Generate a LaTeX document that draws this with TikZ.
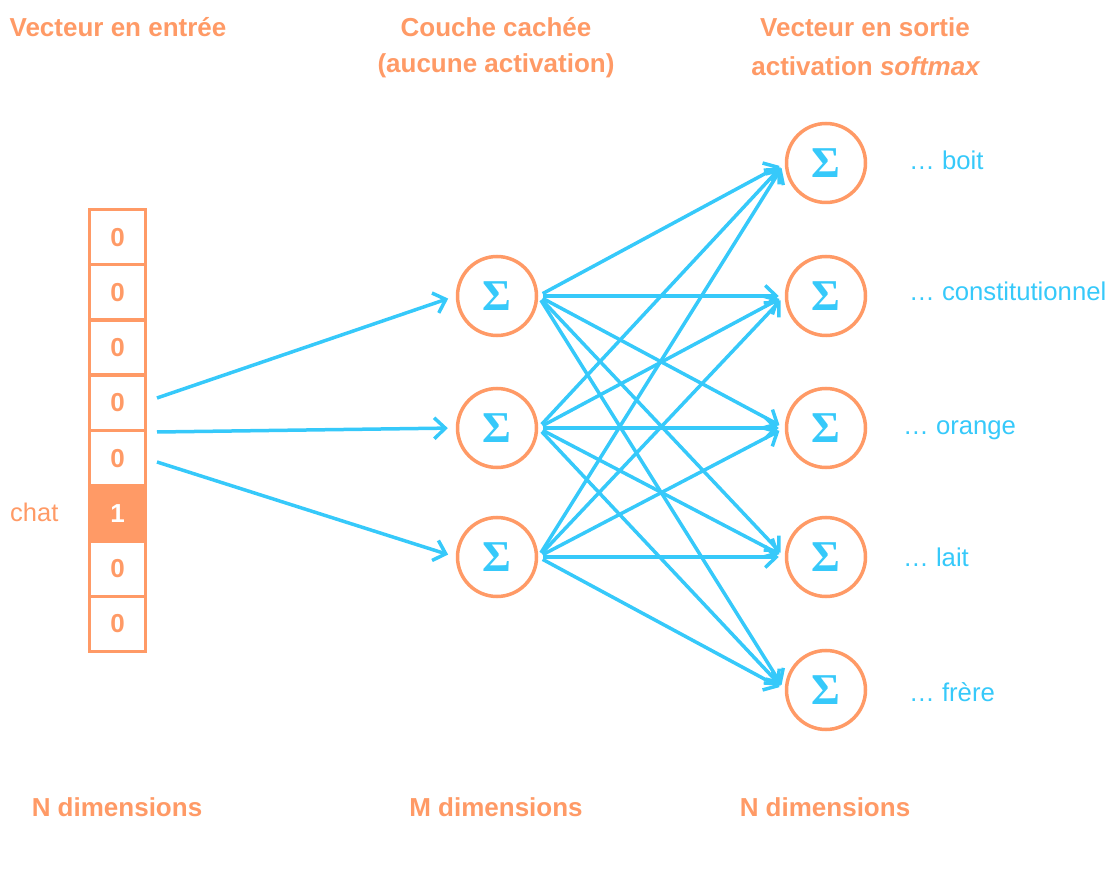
\documentclass[tikz,border=0pt]{standalone}
\usepackage{fontspec}
\setmainfont{Liberation Sans}
\newfontfamily\sigfont{Liberation Serif}
\usetikzlibrary{arrows.meta}
\definecolor{org}{RGB}{255,154,102}
\definecolor{blu}{RGB}{54,201,250}
\begin{document}
\begin{tikzpicture}[x=1pt,y=-1pt,
  title/.style={text=org,font=\fontsize{26}{30}\selectfont\bfseries,inner sep=0pt},
  word/.style={text=blu,font=\fontsize{25.7}{30}\selectfont,inner sep=0pt,anchor=west},
  cell/.style={draw=org,line width=3.5pt,minimum width=56pt,minimum height=55.25pt,inner sep=0pt,
    text=org,font=\fontsize{26}{30}\selectfont\bfseries},
  hot/.style={cell,fill=org,text=white},
  neuron/.style={circle,draw=org,line width=3.5pt,minimum size=79pt,inner sep=0pt,
    text=blu,font=\sigfont\fontsize{44}{44}\selectfont\bfseries},
  conn/.style={draw=blu,line width=3.5pt,-{Straight Barb[length=11pt,width=21pt,line width=3.5pt]}}
]
\useasboundingbox (0,0) rectangle (1120,890);
% titles
\node[title] (t1) at (118,27) {Vecteur en entrée};
\node[title] (t2) at (496,27) {Couche cachée};
\node[title] (t2b) at (496,66) {(aucune activation)};
\node[title] (t3) at (865,27) {Vecteur en sortie};
\node[title] (t3b) at (866,66) {activation \textit{softmax}};
\node[title] (d1) at (117,807) {N dimensions};
\node[title] (d2) at (496,807) {M dimensions};
\node[title] (d3) at (825,807) {N dimensions};
% input vector
\foreach \k/\v in {1/0,2/0,3/0,4/0,5/0,7/0,8/0}{
  \node[cell] (c\k) at (117.5,{209.5+55.25*(\k-0.5)}) {\v};
}
\node[hot] (c6) at (117.5,{209.5+55.25*5.5}) {1};
\node[text=org,font=\fontsize{25.5}{30}\selectfont,inner sep=0pt,anchor=west] (chat) at (10,512) {chat};
% hidden layer
\node[neuron] (h1) at (497,296) {Σ};
\node[neuron] (h2) at (497,428) {Σ};
\node[neuron] (h3) at (497,557) {Σ};
% output layer
\node[neuron] (o1) at (826,163) {Σ};
\node[neuron] (o2) at (826,296) {Σ};
\node[neuron] (o3) at (826,428) {Σ};
\node[neuron] (o4) at (826,557) {Σ};
\node[neuron] (o5) at (826,690) {Σ};
% labels
\node[word] (w1) at (909,160) {… boit};
\node[word] (w2) at (909,291) {… constitutionnel};
\node[word] (w3) at (903,430) {… orange};
\node[word] (w4) at (903,557) {… lait};
\node[word] (w5) at (909,692) {… frère};
% input connectors
\coordinate (i1) at (157,398);
\coordinate (i2) at (157,432);
\coordinate (i3) at (157,462);
\draw[conn,shorten >=8pt] (i1) -- (h1.west);
\draw[conn,shorten >=8pt] (i2) -- (h2.west);
\draw[conn,shorten >=8pt] (i3) -- (h3.west);
% hidden to output
\foreach \h in {1,2,3}{
  \foreach \o in {1,2,3,4,5}{
    \draw[conn,shorten <=5pt,shorten >=6pt] (h\h.east) -- (o\o.west);
  }
}
\end{tikzpicture}
\end{document}
